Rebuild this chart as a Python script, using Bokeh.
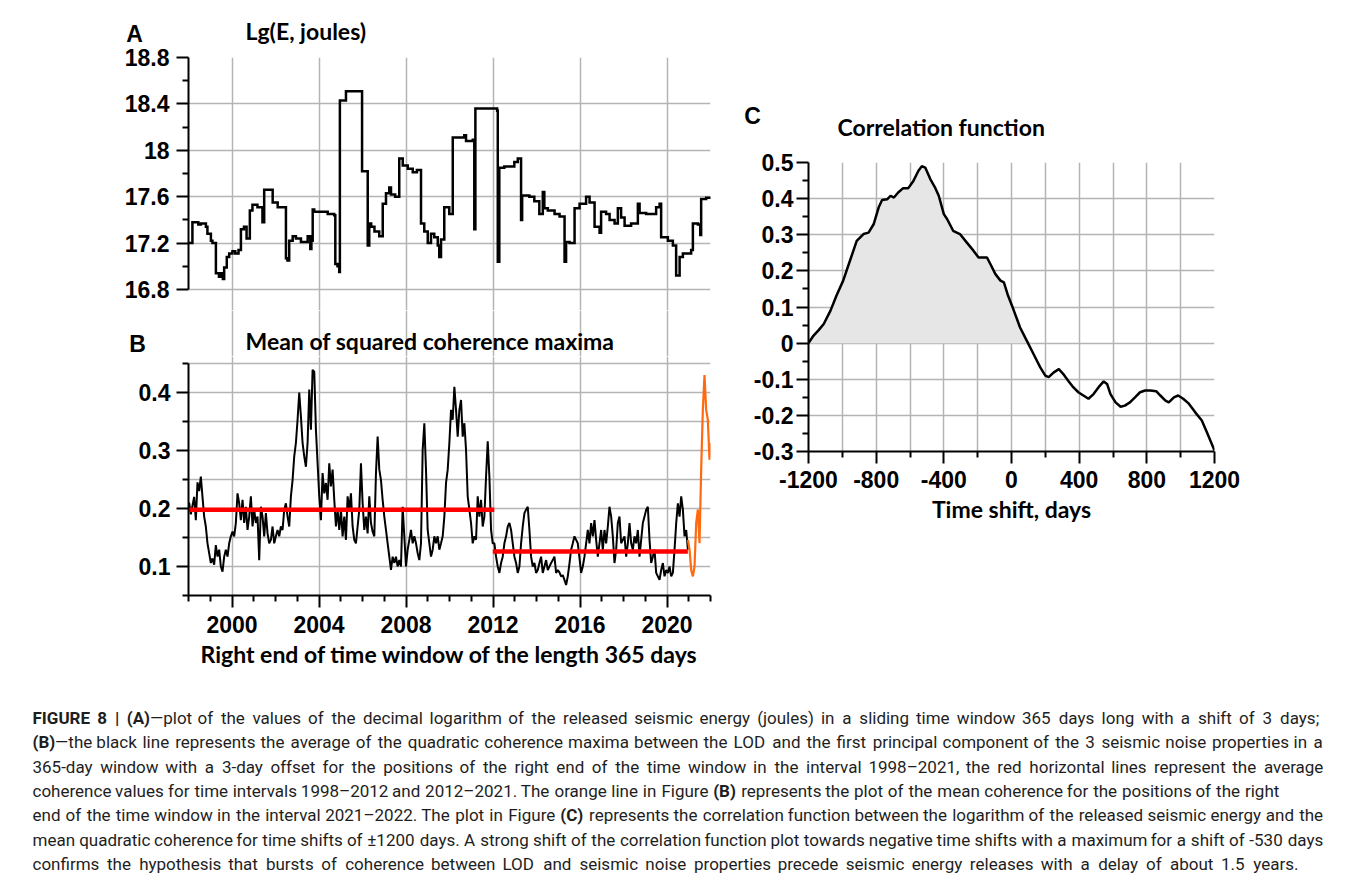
import numpy as np
from bokeh.plotting import figure
from bokeh.models import (Range1d, LinearAxis, FixedTicker, Grid, NumeralTickFormatter,
                          ColumnDataSource)
from bokeh.layouts import column, row
from bokeh.embed import file_html
from bokeh.resources import INLINE
from bokeh.core.properties import value

# ---------------- Panel A: Lg(E, joules), step series (time of change, value after change)
A_YEAR = [1998.00, 1998.18, 1998.45, 1998.57, 1998.80, 1998.87, 1999.03, 1999.10, 1999.26, 1999.40,
          1999.50, 1999.58, 1999.64, 1999.76, 1999.87, 2000.02, 2000.15, 2000.30, 2000.41, 2000.55,
          2000.67, 2000.82, 2000.94, 2001.17, 2001.40, 2001.48, 2001.87, 2002.10, 2002.48, 2002.55,
          2002.63, 2002.79, 2002.94, 2003.17, 2003.48, 2003.60, 2003.65, 2003.71, 2003.78, 2004.40,
          2004.70, 2004.75, 2004.85, 2004.93, 2004.96, 2005.24, 2005.98, 2006.24, 2006.31, 2006.40,
          2006.55, 2006.77, 2006.93, 2007.08, 2007.23, 2007.31, 2007.50, 2007.69, 2007.85, 2008.08,
          2008.31, 2008.50, 2008.69, 2008.84, 2009.00, 2009.15, 2009.30, 2009.46, 2009.53, 2009.61,
          2009.76, 2009.99, 2010.15, 2010.68, 2010.76, 2011.07, 2011.14, 2011.19, 2012.19, 2012.22,
          2012.29, 2012.52, 2012.98, 2013.14, 2013.29, 2013.34, 2013.67, 2013.90, 2014.13, 2014.29,
          2014.36, 2014.52, 2014.83, 2015.06, 2015.29, 2015.36, 2015.52, 2015.75, 2015.98, 2016.28,
          2016.44, 2016.67, 2016.90, 2016.97, 2017.20, 2017.36, 2017.59, 2017.74, 2017.89, 2018.05,
          2018.35, 2018.66, 2018.74, 2019.04, 2019.50, 2019.66, 2019.73, 2020.04, 2020.27, 2020.42,
          2020.58, 2020.73, 2021.11, 2021.19, 2021.42, 2021.53, 2021.57, 2021.80, 2022.00]
A_LG_E = [17.20, 17.38, 17.36, 17.37, 17.34, 17.28, 17.22, 17.20, 16.94, 16.91,
          16.94, 16.89, 16.99, 17.08, 17.11, 17.13, 17.11, 17.14, 17.32, 17.34,
          17.24, 17.48, 17.53, 17.51, 17.38, 17.66, 17.55, 17.51, 17.07, 17.05,
          17.22, 17.26, 17.24, 17.21, 17.26, 17.15, 17.22, 17.49, 17.47, 17.45,
          17.44, 17.02, 17.00, 16.95, 18.43, 18.51, 17.82, 17.18, 17.37, 17.34,
          17.30, 17.26, 17.54, 17.63, 17.68, 17.62, 17.60, 17.93, 17.87, 17.84,
          17.81, 17.83, 17.37, 17.30, 17.20, 17.28, 17.25, 17.18, 17.08, 17.23,
          17.51, 17.45, 18.11, 18.13, 18.08, 18.09, 17.32, 18.36, 18.34, 17.04,
          17.85, 17.86, 17.90, 17.93, 17.40, 17.61, 17.60, 17.56, 17.45, 17.64,
          17.50, 17.48, 17.45, 17.43, 17.04, 17.21, 17.20, 17.50, 17.54, 17.60,
          17.55, 17.34, 17.29, 17.47, 17.45, 17.40, 17.37, 17.50, 17.42, 17.35,
          17.37, 17.54, 17.46, 17.45, 17.51, 17.54, 17.25, 17.22, 17.18, 16.92,
          17.08, 17.11, 17.14, 17.37, 17.36, 17.27, 17.58, 17.59, 17.60]
A_YTICKS = [16.8, 17.2, 17.6, 18.0, 18.4, 18.8]
A_YMINOR = [17.0, 17.4, 17.8, 18.2, 18.6]

# ---------------- Panel B: mean of squared coherence maxima (equally spaced samples)
B_FIRST_YEAR, B_LAST_YEAR = 1998.03, 2020.96
B_COH = [0.21, 0.19, 0.205, 0.22, 0.18, 0.245, 0.23, 0.255, 0.22, 0.186,
         0.169, 0.14, 0.123, 0.106, 0.114, 0.103, 0.137, 0.117, 0.129, 0.10,
         0.091, 0.117, 0.129, 0.117, 0.14, 0.152, 0.16, 0.152, 0.175, 0.226,
         0.209, 0.18, 0.215, 0.175, 0.203, 0.163, 0.186, 0.221, 0.169, 0.198,
         0.175, 0.186, 0.111, 0.203, 0.186, 0.152, 0.192, 0.157, 0.14, 0.146,
         0.169, 0.14, 0.152, 0.163, 0.152, 0.169, 0.163, 0.198, 0.209, 0.186,
         0.169, 0.221, 0.249, 0.29, 0.313, 0.353, 0.40, 0.359, 0.313, 0.29,
         0.272, 0.313, 0.405, 0.336, 0.439, 0.436, 0.336, 0.278, 0.221, 0.18,
         0.261, 0.226, 0.244, 0.215, 0.278, 0.238, 0.267, 0.215, 0.169, 0.198,
         0.163, 0.198, 0.152, 0.186, 0.146, 0.221, 0.198, 0.226, 0.169, 0.146,
         0.14, 0.169, 0.198, 0.278, 0.209, 0.163, 0.186, 0.157, 0.221, 0.175,
         0.16, 0.152, 0.261, 0.324, 0.267, 0.249, 0.215, 0.186, 0.163, 0.14,
         0.117, 0.094, 0.117, 0.106, 0.117, 0.10, 0.111, 0.10, 0.203, 0.152,
         0.10, 0.129, 0.146, 0.163, 0.14, 0.152, 0.14, 0.123, 0.111, 0.14,
         0.301, 0.347, 0.267, 0.163, 0.14, 0.117, 0.129, 0.152, 0.14, 0.152,
         0.129, 0.14, 0.152, 0.186, 0.244, 0.267, 0.313, 0.37, 0.353, 0.41,
         0.37, 0.324, 0.37, 0.387, 0.324, 0.347, 0.301, 0.221, 0.198, 0.175,
         0.14, 0.152, 0.146, 0.221, 0.186, 0.215, 0.169, 0.186, 0.255, 0.316,
         0.255, 0.163, 0.14, 0.14, 0.117, 0.10, 0.089, 0.106, 0.117, 0.14,
         0.152, 0.169, 0.175, 0.163, 0.14, 0.117, 0.106, 0.089, 0.10, 0.14,
         0.169, 0.192, 0.198, 0.203, 0.163, 0.117, 0.10, 0.106, 0.089, 0.094,
         0.106, 0.117, 0.089, 0.10, 0.111, 0.094, 0.10, 0.106, 0.111, 0.117,
         0.089, 0.094, 0.09, 0.083, 0.085, 0.077, 0.068, 0.083, 0.105, 0.129,
         0.14, 0.152, 0.146, 0.14, 0.115, 0.089, 0.10, 0.117, 0.14, 0.163,
         0.14, 0.175, 0.152, 0.18, 0.146, 0.117, 0.14, 0.163, 0.129, 0.163,
         0.14, 0.169, 0.203, 0.186, 0.152, 0.106, 0.129, 0.175, 0.186, 0.14,
         0.146, 0.152, 0.117, 0.14, 0.175, 0.14, 0.129, 0.152, 0.14, 0.163,
         0.117, 0.146, 0.175, 0.186, 0.198, 0.203, 0.146, 0.106, 0.117, 0.129,
         0.089, 0.083, 0.077, 0.094, 0.106, 0.083, 0.094, 0.089, 0.10, 0.083,
         0.089, 0.129, 0.175, 0.209, 0.186, 0.221, 0.198, 0.152, 0.163, 0.129]
B_ORANGE_FIRST_YEAR, B_ORANGE_LAST_YEAR = 2020.96, 2022.03
B_COH_ORANGE = [0.146, 0.129, 0.094, 0.083, 0.10, 0.175, 0.198, 0.14, 0.267, 0.37,
                0.43, 0.37, 0.353, 0.284, 0.313]
RED_START = [1998.0, 2011.99]
RED_END = [2012.06, 2020.96]
RED_MEAN = [0.198, 0.126]
B_YTICKS = [0.1, 0.2, 0.3, 0.4]
B_YMINOR = [0.05, 0.15, 0.25, 0.35, 0.45]
B_YGRID = [0.05, 0.1, 0.15, 0.2, 0.25, 0.3, 0.35, 0.4, 0.45]
YEAR_TICKS = [2000, 2004, 2008, 2012, 2016, 2020]
YEAR_MINOR = [y for y in range(1998, 2023) if y not in YEAR_TICKS]

# ---------------- Panel C: correlation function
C_LAG = [-1200, -1170, -1140, -1110, -1070, -1035, -995, -955, -915, -875,
         -845, -815, -785, -765, -735, -715, -695, -670, -640, -610,
         -580, -550, -530, -510, -480, -450, -430, -400, -380, -345,
         -305, -265, -225, -195, -165, -145, -125, -95, -65, -45,
         -20, 10, 50, 90, 130, 170, 200, 220, 250, 280,
         305, 335, 365, 395, 425, 455, 485, 515, 545, 565,
         585, 615, 645, 670, 700, 730, 760, 790, 820, 855,
         880, 910, 930, 960, 985, 1015, 1045, 1085, 1125, 1155, 1200]
C_CORR = [0.0, 0.021, 0.036, 0.053, 0.09, 0.131, 0.173, 0.228, 0.283, 0.302,
          0.306, 0.329, 0.376, 0.396, 0.398, 0.408, 0.403, 0.417, 0.429, 0.429,
          0.449, 0.477, 0.49, 0.486, 0.454, 0.429, 0.408, 0.357, 0.343, 0.311,
          0.302, 0.279, 0.256, 0.237, 0.237, 0.237, 0.219, 0.191, 0.173, 0.168,
          0.131, 0.095, 0.044, 0.007, -0.03, -0.067, -0.09, -0.094, -0.081, -0.072,
          -0.085, -0.104, -0.122, -0.136, -0.145, -0.154, -0.141, -0.122, -0.106, -0.113,
          -0.141, -0.164, -0.176, -0.173, -0.164, -0.15, -0.136, -0.131, -0.131, -0.133,
          -0.145, -0.159, -0.164, -0.15, -0.145, -0.154, -0.166, -0.191, -0.214, -0.247, -0.297]
C_XTICKS = [-1200, -800, -400, 0, 400, 800, 1200]
C_XMINOR = [-1000, -600, -200, 200, 600, 1000]
C_XGRID = [-1200, -1000, -800, -600, -400, -200, 0, 200, 400, 600, 800, 1000, 1200]
C_YTICKS = [-0.3, -0.2, -0.1, 0.0, 0.1, 0.2, 0.3, 0.4, 0.5]
C_YMINOR = [-0.25, -0.15, -0.05, 0.05, 0.15, 0.25, 0.35, 0.45]

# ---------------- caption
CAPTION_LINES = [
    [("FIGURE 8 | (A)", True), ("\u2014plot of the values of the decimal logarithm of the released seismic energy (joules) in a sliding time window 365 days long with a shift of 3 days;", False)],
    [("(B)", True), ("\u2014the black line represents the average of the quadratic coherence maxima between the LOD and the first principal component of the 3 seismic noise properties in a", False)],
    [("365-day window with a 3-day offset for the positions of the right end of the time window in the interval 1998\u20132021, the red horizontal lines represent the average", False)],
    [("coherence values for time intervals 1998\u20132012 and 2012\u20132021. The orange line in Figure ", False), ("(B)", True), (" represents the plot of the mean coherence for the positions of the right", False)],
    [("end of the time window in the interval 2021\u20132022. The plot in Figure ", False), ("(C)", True), (" represents the correlation function between the logarithm of the released seismic energy and the", False)],
    [("mean quadratic coherence for time shifts of \u00b11200 days. A strong shift of the correlation function plot towards negative time shifts with a maximum for a shift of -530 days", False)],
    [("confirms the hypothesis that bursts of coherence between LOD and seismic noise properties precede seismic energy releases with a delay of about 1.5 years.", False)],
]

# ---------------- style
GRID_COLOR = "#b4b4b4"
TICK_FONT = "Liberation Sans"
TITLE_FONT = "Lato"
TITLE_SIZE = "23px"
CAP_FONT = "Roboto"
CAP_FS = 17


def style_axis(ax, standoff):
    ax.axis_line_color = "black"
    ax.axis_line_width = 2
    ax.major_tick_line_color = "black"
    ax.major_tick_line_width = 2
    ax.minor_tick_line_color = "black"
    ax.minor_tick_line_width = 2
    ax.major_tick_out = 12
    ax.major_tick_in = 0
    ax.minor_tick_out = 6
    ax.minor_tick_in = 0
    ax.major_label_text_font = TICK_FONT
    ax.major_label_text_font_style = "bold"
    ax.major_label_text_font_size = "23px"
    ax.major_label_text_color = "black"
    ax.major_label_standoff = standoff
    ax.axis_label_text_font = TITLE_FONT
    ax.axis_label_text_font_style = "bold"
    ax.axis_label_text_font_size = TITLE_SIZE
    ax.axis_label_text_color = "black"


def make_axis(ticks, minor, bounds, fmt, standoff, label=None, label_standoff=6):
    ax = LinearAxis(ticker=FixedTicker(ticks=ticks, minor_ticks=minor),
                    formatter=NumeralTickFormatter(format=fmt), bounds=bounds)
    style_axis(ax, standoff)
    if label:
        ax.axis_label = label
        ax.axis_label_standoff = label_standoff
    return ax


def add_grid(p, dim, ticks, bounds):
    p.add_layout(Grid(dimension=dim, ticker=FixedTicker(ticks=ticks), bounds=bounds,
                      grid_line_color=GRID_COLOR, grid_line_width=1.5))


def base_fig(**kw):
    p = figure(x_axis_location=None, y_axis_location=None, toolbar_location=None,
               output_backend="svg", title=None, outline_line_color=None, frame_align=False,
               background_fill_color="white", border_fill_color="white", **kw)
    # drop the default grids; the grids that the reference shows are added explicitly
    p.center = [r for r in p.center if not isinstance(r, Grid)]
    return p


def strip(width, height, x_range, y_range):
    return base_fig(width=width, height=height, x_range=x_range, y_range=y_range,
                    min_border_left=0, min_border_right=0, min_border_top=0, min_border_bottom=0)


def add_text(p, x, y, text, font, size, align="left"):
    p.text(x=[x], y=[y], text=[text], text_font=value(font), text_font_size=value(size),
           text_font_style="bold", text_color="black", text_align=align,
           text_baseline="middle")


def yr(px):
    # page pixel -> year for the left-hand panels (frame 188..710 px = 1998..2022)
    return 1998 + (px - 188) * 24 / 522


# page layout: content starts at page (9, 9)
# ---------------- Header A  (page y 9..45)
hA = strip(721, 36, Range1d(9, 730), Range1d(45, 9))
add_text(hA, 134, 33, "A", TICK_FONT, "23px", "center")
add_text(hA, 245, 30, "Lg(E, joules)", TITLE_FONT, TITLE_SIZE)

# ---------------- Panel A  (page y 45..310, frame 57..310)
A_Y0 = 18.8 - 253 / 116.0
pA = base_fig(width=721, height=265, x_range=Range1d(1998, 2022), y_range=Range1d(A_Y0, 18.8),
              min_border_left=179, min_border_right=20, min_border_top=12, min_border_bottom=0)
pA.add_layout(make_axis(A_YTICKS, A_YMINOR, (16.8, 18.8), "0.[0]", 7), "left")
add_grid(pA, 1, A_YTICKS, (16.79, 18.81))
add_grid(pA, 0, YEAR_TICKS, (1997.9, 2022.1))
pA.step(x=A_YEAR, y=A_LG_E, mode="after", line_color="black", line_width=2.5, line_join="miter")

# ---------------- Header B (page y 310..356, continues the vertical grid)
hB = strip(721, 46, Range1d(yr(9), yr(730)), Range1d(356, 310))
add_grid(hB, 0, YEAR_TICKS, (1997.9, 2022.1))
add_text(hB, yr(137), 343, "B", TICK_FONT, "23px", "center")
add_text(hB, yr(245), 340, "Mean of squared coherence maxima", TITLE_FONT, TITLE_SIZE)

# ---------------- Panel B  (page y 356..680, frame 356..595)
B_Y1 = 0.05 + 239 / 580
pB = base_fig(width=721, height=324, x_range=Range1d(1998, 2022), y_range=Range1d(0.05, B_Y1),
              min_border_left=179, min_border_right=20, min_border_top=0, min_border_bottom=85)
pB.add_layout(make_axis(B_YTICKS, B_YMINOR, (0.05, 0.45), "0.0", 6), "left")
pB.add_layout(make_axis(YEAR_TICKS, YEAR_MINOR, (1998, 2022), "0", 8,
                        "Right end of time window of the length 365 days", 4), "below")
add_grid(pB, 1, B_YGRID, (0.049, 0.451))
add_grid(pB, 0, YEAR_TICKS, (1997.9, 2022.1))
b_years = np.linspace(B_FIRST_YEAR, B_LAST_YEAR, len(B_COH))
pB.line(b_years, B_COH, line_color="black", line_width=2)
o_years = np.linspace(B_ORANGE_FIRST_YEAR, B_ORANGE_LAST_YEAR, len(B_COH_ORANGE))
pB.line(o_years, B_COH_ORANGE, line_color="#ff6a10", line_width=2.2)
pB.segment(x0=RED_START, x1=RED_END, y0=RED_MEAN, y1=RED_MEAN, line_color="#ff0000", line_width=4.5)

# ---------------- Header C  (page x 730..1352, y 9..145)
hC = strip(622, 136, Range1d(730, 1352), Range1d(145, 9))
add_text(hC, 752, 115, "C", TICK_FONT, "23px", "center")
add_text(hC, 837, 126, "Correlation function", TITLE_FONT, TITLE_SIZE)

# ---------------- Panel C  (page y 145..540, frame x 808..1214, y 162..451)
pC = base_fig(width=622, height=395, x_range=Range1d(-1200, 1200), y_range=Range1d(-0.3, 0.5),
              min_border_left=78, min_border_right=138, min_border_top=17, min_border_bottom=89)
pC.add_layout(make_axis(C_YTICKS, C_YMINOR, (-0.3, 0.5), "0.[0]", 3), "left")
pC.add_layout(make_axis(C_XTICKS, C_XMINOR, (-1200, 1200), "0", 7, "Time shift, days", 4), "below")
add_grid(pC, 1, C_YTICKS, (-0.301, 0.501))
add_grid(pC, 0, C_XGRID, (-1201, 1201))
pC.varea(x=C_LAG, y1=0, y2=np.maximum(np.array(C_CORR), 0), fill_color="#e6e6e6")
pC.line(C_LAG, C_CORR, line_color="black", line_width=2.5)

# ---------------- Caption (page-pixel coordinates), justified word by word
REG = {' ': .248, 'a': .531, 'b': .548, 'c': .511, 'd': .550, 'e': .517, 'f': .340, 'g': .548,
       'h': .538, 'i': .237, 'j': .233, 'k': .495, 'l': .237, 'm': .855, 'n': .539, 'o': .557,
       'p': .548, 'q': .554, 'r': .331, 's': .503, 't': .320, 'u': .538, 'v': .473, 'w': .733,
       'x': .484, 'y': .462, 'z': .484, '.': .258, ',': .192, ';': .212, ':': .242, '-': .270,
       '\u2013': .554, '\u2014': .660, '(': .341, ')': .348, '|': .243, '\u00b1': .532,
       'A': .652, 'B': .623, 'C': .651, 'D': .656, 'E': .568, 'F': .553, 'G': .681, 'H': .713,
       'I': .272, 'L': .539, 'O': .688, 'R': .616, 'S': .602, 'T': .605, 'U': .648}
BOLD = {' ': .243, '(': .349, ')': .350, '|': .220, 'A': .665, 'B': .628, 'C': .651,
        'E': .547, 'F': .557, 'G': .668, 'I': .285, 'R': .624, 'U': .649}
CAP_LEFT = 32
CAP_RIGHT = [1318, 1322, 1322, 1278, 1322, 1322, 1297]
CAP_Y = [717, 741, 766, 790, 814, 839, 863]


def char_w(ch, bold):
    if ch.isdigit():
        w = 0.562
    elif bold and ch in BOLD:
        w = BOLD[ch]
    else:
        w = REG.get(ch, 0.53)
    return w * CAP_FS


cx, cy, ct, cs = [], [], [], []
for segs, yy, xr in zip(CAPTION_LINES, CAP_Y, CAP_RIGHT):
    chars = [(c, b) for t, b in segs for c in t]
    toks, cur = [], []
    for c, b in chars:
        if c == " ":
            if cur:
                toks.append(cur)
                cur = []
        else:
            cur.append((c, b))
    if cur:
        toks.append(cur)
    pieces_all, widths = [], []
    for tok in toks:
        pieces = []
        for c, b in tok:
            if pieces and pieces[-1][1] == b:
                pieces[-1][0] += c
            else:
                pieces.append([c, b])
        pieces_all.append(pieces)
        widths.append(sum(char_w(c, b) for c, b in tok))
    gap = (xr - CAP_LEFT - sum(widths)) / max(len(toks) - 1, 1)
    gap = max(gap, 0.2 * CAP_FS)
    x = CAP_LEFT
    for pieces in pieces_all:
        for txt, b in pieces:
            cx.append(x)
            cy.append(yy)
            ct.append(txt)
            cs.append("bold" if b else "normal")
            x += sum(char_w(c, b) for c in txt)
        x += gap

cap_src = ColumnDataSource(dict(x=cx, y=cy, text=ct, style=cs))
pCap = strip(1343, 205, Range1d(9, 1352), Range1d(885, 680))
pCap.text(x="x", y="y", text="text", source=cap_src, text_font=value(CAP_FONT),
          text_font_size=value("%dpx" % CAP_FS), text_font_style="style",
          text_baseline="middle", text_align="left", text_color="#1e1e1e")

layout = column(row(column(hA, pA, hB, pB), column(hC, pC)), pCap,
                styles={"margin-top": "9px", "margin-left": "9px"})

open("out.html", "w").write(file_html(layout, INLINE))
